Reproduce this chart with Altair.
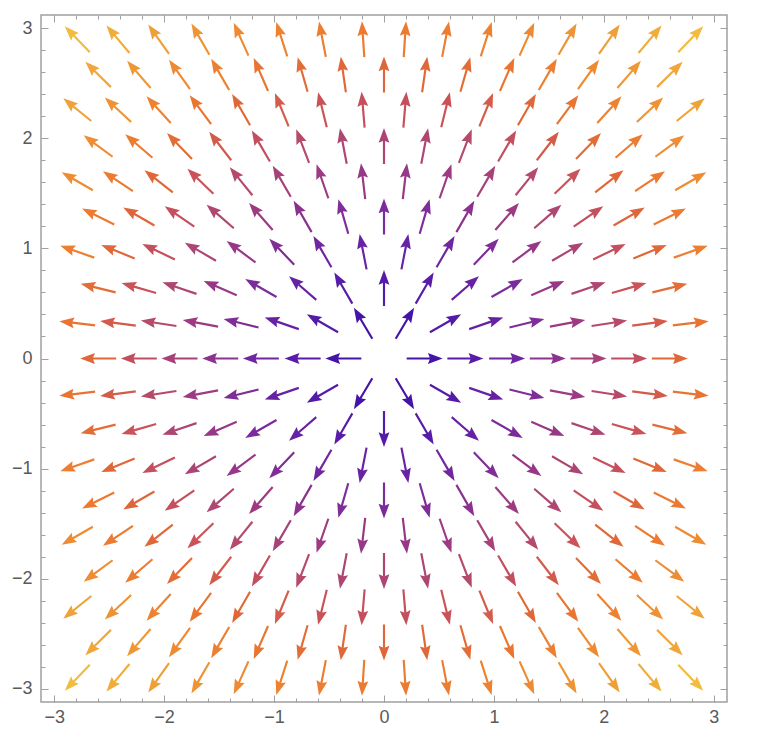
import math
import altair as alt
import pandas as pd

# Hexagonal sample grid
y_rows = [-2.90, -2.58, -2.26, -1.93, -1.61, -1.29, -0.97, -0.64, -0.32, 0.0,
          0.32, 0.64, 0.97, 1.29, 1.61, 1.93, 2.26, 2.58, 2.90]
x_wide = [-2.79, -2.42, -2.05, -1.67, -1.30, -0.93, -0.56, -0.19,
          0.19, 0.56, 0.93, 1.30, 1.67, 2.05, 2.42, 2.79]
x_narrow = [-2.60, -2.23, -1.86, -1.49, -1.12, -0.74, -0.37, 0.0,
            0.37, 0.74, 1.12, 1.49, 1.86, 2.23, 2.60]
# rows using the wide (16-point) layout alternate with the narrow (15-point) layout
row_uses_wide = [True, False, True, False, True, False, True, False, True, False,
                 True, False, True, False, True, False, True, False, True]

major_ticks = [-3, -2, -1, 0, 1, 2, 3]
minor_ticks = [-3.0, -2.8, -2.6, -2.4, -2.2, -2.0, -1.8, -1.6, -1.4, -1.2, -1.0,
               -0.8, -0.6, -0.4, -0.2, 0.0, 0.2, 0.4, 0.6, 0.8, 1.0, 1.2, 1.4,
               1.6, 1.8, 2.0, 2.2, 2.4, 2.6, 2.8, 3.0]

# colour stops for the vector magnitude
mag_stops = [0.19, 0.75, 1.2, 1.75, 2.0, 2.3, 2.6, 2.9, 3.7, 4.1]
mag_colors = ["#3a10a8", "#5a1ca8", "#7428a0", "#a03c80", "#b04870",
              "#c8505a", "#e06838", "#ec7a30", "#f0a838", "#f4c03e"]

rows = []
for yv, wide in zip(y_rows, row_uses_wide):
    xs = x_wide if wide else x_narrow
    for xv in xs:
        # vector field F(x, y) = (x, y)
        vx, vy = xv, yv
        m = math.hypot(vx, vy)
        if m == 0:
            continue
        ang = math.degrees(math.atan2(vx, vy)) % 360
        rows.append({"x": xv, "y": yv, "mag": m, "angle": ang})
df = pd.DataFrame(rows)

arrow_path = ("M0,-1 L0.3,-0.18 L0.06,-0.28 L0.06,1 L-0.06,1 "
              "L-0.06,-0.28 L-0.3,-0.18 Z")

dom = [-3.12, 3.12]
xs_ = alt.Scale(domain=dom, nice=False, zero=False)
ys_ = alt.Scale(domain=dom, nice=False, zero=False)

arrows = alt.Chart(df).mark_point(
    shape=arrow_path, filled=True, size=1296, opacity=1, strokeWidth=0
).encode(
    x=alt.X("x:Q", scale=xs_, axis=None),
    y=alt.Y("y:Q", scale=ys_, axis=None),
    angle=alt.Angle("angle:Q", scale=None),
    color=alt.Color("mag:Q", scale=alt.Scale(domain=mag_stops, range=mag_colors,
                                             interpolate="rgb"), legend=None),
)

def axis_layer(xorient, yorient, values, tsize, labels):
    common = dict(values=values, tickSize=tsize, offset=-tsize, domain=False,
                  grid=False, labels=labels, title=None,
                  tickColor="#a0a0a0", tickWidth=1)
    return alt.Chart(df).mark_point(opacity=0).encode(
        x=alt.X("x:Q", scale=xs_, axis=alt.Axis(orient=xorient, labelPadding=6, **common)),
        y=alt.Y("y:Q", scale=ys_, axis=alt.Axis(orient=yorient, labelPadding=9, **common)),
    )

chart = alt.layer(
    axis_layer("bottom", "left", major_ticks, 7, True),
    axis_layer("bottom", "left", minor_ticks, 4, False),
    axis_layer("top", "right", major_ticks, 7, False),
    axis_layer("top", "right", minor_ticks, 4, False),
    arrows,
).resolve_axis(x="independent", y="independent").properties(
    width=686, height=687,
    autosize=alt.AutoSizeParams(type="none"),
    padding={"left": 33, "top": 7, "right": 20, "bottom": 30},
).configure_view(
    stroke="#a0a0a0", strokeWidth=1.5
).configure_axis(
    labelFont="Liberation Sans", labelFontSize=18, labelColor="#5a5a5a"
)

chart.save("out.html", embed_options={"renderer": "svg", "actions": False})
